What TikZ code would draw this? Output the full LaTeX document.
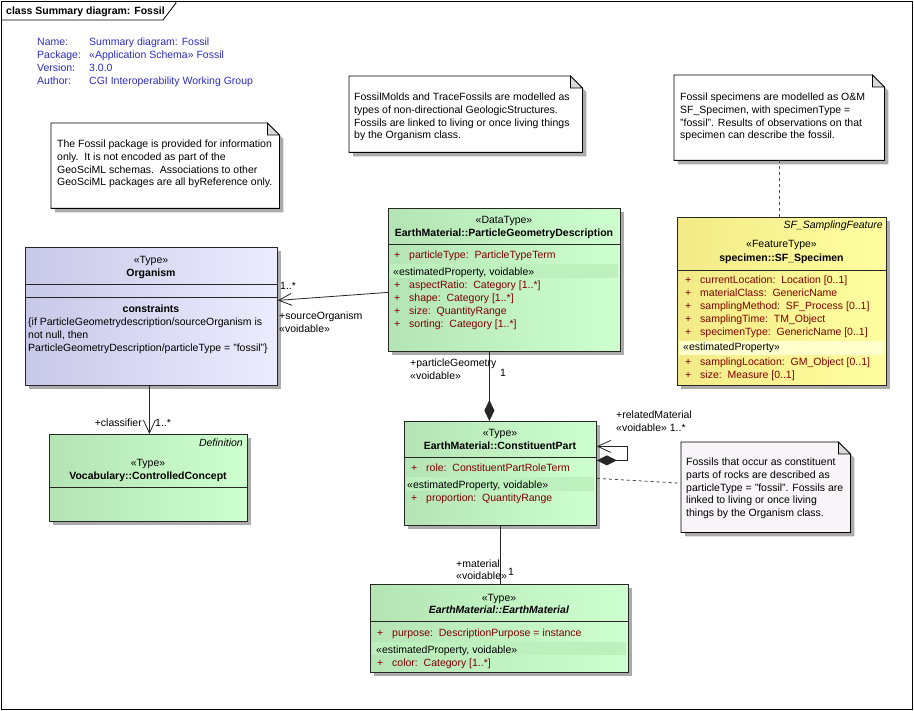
\documentclass[tikz,border=0pt]{standalone}
\usepackage{fontspec}
\setmainfont{Liberation Sans}
\usepackage{tikz}
\usetikzlibrary{positioning}
\usetikzlibrary{arrows.meta}
\usetikzlibrary{shadows}
\usetikzlibrary{backgrounds}

\definecolor{infoblue}{RGB}{45,45,190}
\definecolor{attrred}{RGB}{128,0,0}
\definecolor{greenL}{RGB}{180,228,180}
\definecolor{greenR}{RGB}{206,255,206}
\definecolor{greenband}{RGB}{190,240,190}
\definecolor{lilacL}{RGB}{200,200,232}
\definecolor{lilacR}{RGB}{236,236,255}
\definecolor{yellowL}{RGB}{242,234,135}
\definecolor{yellowR}{RGB}{255,255,160}
\definecolor{yellowband}{RGB}{255,255,205}
\definecolor{notefill}{RGB}{248,244,248}

\begin{document}
\begin{tikzpicture}[x=1pt,y=-1pt,
        every node/.style={inner sep=0pt, font=\fontsize{10.5}{12.6}\selectfont},
        txt/.style={anchor=base west},
        mid/.style={anchor=base},
        info/.style={anchor=base west, text=infoblue},
        attr/.style={anchor=base west, text=attrred},
        notetext/.style={anchor=north west, align=left},
        notebox/.style={anchor=north west},
        clsbox/.style={draw=black!85, line width=0.8pt, anchor=north west,
                drop shadow={shadow xshift=4pt, shadow yshift=-4pt, fill=black!33, opacity=1}},
        greencls/.style={clsbox, left color=greenL, right color=greenR},
        lilaccls/.style={clsbox, left color=lilacL, right color=lilacR},
        yellowcls/.style={clsbox, left color=yellowL, right color=yellowR},
        sep/.style={draw=black!85, line width=0.8pt},
        assoc/.style={draw=black!85, line width=0.8pt, -{Straight Barb[length=13pt,width=12pt]}},
        comp/.style={draw=black!85, line width=0.8pt, -{Diamond[length=21pt,width=10pt]}},
        selfassoc/.style={draw=black!85, line width=0.8pt,
                {Diamond[length=20pt,width=10pt]}-{Straight Barb[length=13pt,width=12pt]}},
        plain/.style={draw=black!85, line width=0.8pt},
        notelink/.style={draw=black!70, line width=0.8pt, dash pattern=on 3pt off 3pt},
    ]
    \useasboundingbox (0,0) rectangle (914,711);

    % frame and title tab
    \draw[line width=0.8pt] (1,1) rectangle (912,709);
    \draw[line width=0.8pt] (1,20) -- (163,20) -- (176,3) -- (176,1);
    \node[txt] (title) at (6,15) {\textbf{class Summary diagram: Fossil}};

    % diagram properties
    \foreach \k/\v [count=\i from 0] in {Name:/Summary diagram: Fossil,
            Package:/«Application Schema» Fossil, Version:/3.0.0,
            Author:/CGI Interoperability Working Group} {
        \node[info] (infok\i) at (37,46+12.7*\i) {\k};
        \node[info] (infov\i) at (89,46+12.7*\i) {\v};
    }

    % notes
    \node[notebox, minimum width=228pt, minimum height=85pt] (pkgnote) at (51,123) {};
    \node[notetext] (pkgtext) at (57,140) {The Fossil package is provided for information\\
        only.\ \ It is not encoded as part of the\\
        GeoSciML schemas.\ \ Associations to other\\
        GeoSciML packages are all byReference only.};
    \node[notebox, minimum width=233pt, minimum height=76pt] (moldnote) at (349,76) {};
    \node[notetext] (moldtext) at (354,93) {FossilMolds and TraceFossils are modelled as\\
        types of non-directional GeologicStructures.\\
        Fossils are linked to living or once living things\\
        by the Organism class.};
    \node[notebox, minimum width=210pt, minimum height=85pt] (specnote) at (674,75) {};
    \node[notetext] (spectext) at (680,93) {Fossil specimens are modelled as O\&M\\
        SF\_Specimen, with specimenType =\\
        "fossil". Results of observations on that\\
        specimen can describe the fossil.};
    \node[notebox, minimum width=169pt, minimum height=90pt] (partnote) at (681,442) {};
    \node[notetext] (parttext) at (686,458) {Fossils that occur as constituent\\
        parts of rocks are described as\\
        particleType = "fossil". Fossils are\\
        linked to living or once living\\
        things by the Organism class.};

    \begin{scope}[on background layer]
        \fill[white] (0,0) rectangle (914,711);
        \foreach \n/\col in {pkgnote/white, moldnote/white, specnote/white, partnote/notefill} {
            \fill[black!33, transform canvas={shift={(4pt,-4pt)}}] (\n.south west) -- (\n.north west)
                -- ([xshift=-12pt]\n.north east) -- ([yshift=-12pt]\n.north east) -- (\n.south east) -- cycle;
            \draw[fill=\col, line width=0.8pt] (\n.south west) -- (\n.north west)
                -- ([xshift=-12pt]\n.north east) -- ([yshift=-12pt]\n.north east) -- (\n.south east) -- cycle;
            \draw[fill=black!15, line width=0.8pt] ([xshift=-12pt]\n.north east)
                -- ([xshift=-12pt,yshift=-12pt]\n.north east) -- ([yshift=-12pt]\n.north east) -- cycle;
        }
    \end{scope}

    % classes
    \node[lilaccls, minimum width=252pt, minimum height=138pt] (org) at (25,247) {};
    \node[greencls, minimum width=232pt, minimum height=143pt] (pgd) at (388,208) {};
    \node[yellowcls, minimum width=209pt, minimum height=168pt] (spec) at (677,217) {};
    \node[greencls, minimum width=198pt, minimum height=87pt] (concept) at (49,434) {};
    \node[greencls, minimum width=192pt, minimum height=104pt] (cpart) at (404,421) {};
    \node[greencls, minimum width=258pt, minimum height=88pt] (emat) at (370,584) {};

    % stereotype bands
    \fill[greenband] (390,264) rectangle (618,278);
    \fill[greenband] (406,477) rectangle (594,491);
    \fill[greenband] (372,642) rectangle (626,655);
    \fill[yellowband] (679,341) rectangle (884,355);

    \foreach \b/\y in {org/284, org/297, pgd/244, spec/270, concept/487, cpart/457, emat/621}
        \draw[sep] (\b.west |- 0,\y) -- (\b.east |- 0,\y);

    % Organism
    \node[mid] (orgst) at (151,264) {«Type»};
    \node[mid] (orgname) at (151,277) {\textbf{Organism}};
    \node[mid] (orgcon) at (151,313) {\textbf{constraints}};
    \node[notetext] (orgrule) at (28,318) {\{if ParticleGeometrydescription/sourceOrganism is\\
        not null, then\\
        ParticleGeometryDescription/particleType = "fossil"\}};

    % ParticleGeometryDescription
    \node[mid] (pgdst) at (504,224) {«DataType»};
    \node[mid] (pgdname) at (504,237) {\textbf{EarthMaterial::ParticleGeometryDescription}};
    \node[attr] (pgdtype) at (394,259) {\makebox[15pt][l]{+}particleType:\ \ ParticleTypeTerm};
    \node[txt] (pgdband) at (393,276) {«estimatedProperty, voidable»};
    \foreach \a [count=\i from 0] in {{aspectRatio:\ \ Category [1..*]}, {shape:\ \ Category [1..*]},
            {size:\ \ QuantityRange}, {sorting:\ \ Category [1..*]}}
        \node[attr] (pgda\i) at (394,289+13*\i) {\makebox[15pt][l]{+}\a};

    % SF_Specimen
    \node[anchor=base east] (specsup) at (883,229) {\itshape SF\_SamplingFeature};
    \node[mid] (specst) at (781.5,248) {«FeatureType»};
    \node[mid] (specname) at (781.5,262) {\textbf{specimen::SF\_Specimen}};
    \foreach \a [count=\i from 0] in {{currentLocation:\ \ Location [0..1]}, {materialClass:\ \ GenericName},
            {samplingMethod:\ \ SF\_Process [0..1]}, {samplingTime:\ \ TM\_Object},
            {specimenType:\ \ GenericName [0..1]}}
        \node[attr] (speca\i) at (685,284+13*\i) {\makebox[15pt][l]{+}\a};
    \node[txt] (specband) at (683,351) {«estimatedProperty»};
    \node[attr] (specloc) at (685,366) {\makebox[15pt][l]{+}samplingLocation:\ \ GM\_Object [0..1]};
    \node[attr] (specsize) at (685,379) {\makebox[15pt][l]{+}size:\ \ Measure [0..1]};

    % ControlledConcept
    \node[anchor=base east] (consup) at (243,447) {\itshape Definition};
    \node[mid] (const) at (148,467) {«Type»};
    \node[mid] (conname) at (148,480) {\textbf{Vocabulary::ControlledConcept}};

    % ConstituentPart
    \node[mid] (cpst) at (500,437) {«Type»};
    \node[mid] (cpname) at (500,450) {\textbf{EarthMaterial::ConstituentPart}};
    \node[attr] (cprole) at (411,472) {\makebox[15pt][l]{+}role:\ \ ConstituentPartRoleTerm};
    \node[txt] (cpband) at (407,489) {«estimatedProperty, voidable»};
    \node[attr] (cpprop) at (411,502) {\makebox[15pt][l]{+}proportion:\ \ QuantityRange};

    % EarthMaterial
    \node[mid] (emst) at (499,601) {«Type»};
    \node[mid] (emname) at (499,613) {\textbf{\itshape EarthMaterial::EarthMaterial}};
    \node[attr] (empurp) at (377,636) {\makebox[15pt][l]{+}purpose:\ \ DescriptionPurpose = instance};
    \node[txt] (emband) at (376,653) {«estimatedProperty, voidable»};
    \node[attr] (emcolor) at (377,666) {\makebox[15pt][l]{+}color:\ \ Category [1..*]};

    % connectors
    \draw[assoc] ([yshift=-12.5pt]pgd.west) -- ([yshift=16pt]org.east);
    \draw[assoc] ([xshift=-2pt]org.south) -- ([xshift=1pt]concept.north);
    \draw[comp] ([xshift=-15pt]pgd.south) -- ([xshift=-11pt]cpart.north);
    \draw[selfassoc] ([yshift=13pt]cpart.east) -- ++(31,0) -- ++(0,-14) -- ([yshift=27pt]cpart.east);
    \draw[plain] (cpart.south) -- (cpart.south |- emat.north);
    \draw[notelink] (specnote.south) -- (specnote.south |- spec.north);
    \draw[notelink] ([yshift=-5pt]cpart.east) -- ([yshift=4pt]partnote.west);

    % role labels
    \node[txt] (srcmult) at (280,290) {1..*};
    \node[txt] (srcrole) at (279,320) {+sourceOrganism};
    \node[txt] (srcvoid) at (279,333) {«voidable»};
    \node[anchor=base east] (clsrole) at (142,427) {+classifier};
    \node[txt] (clsmult) at (155,427) {1..*};
    \node[txt] (pgrole) at (410,367) {+particleGeometry};
    \node[txt] (pgvoid) at (410,380) {«voidable»};
    \node[txt] (pgmult) at (500,377) {1};
    \node[txt] (relrole) at (616,419) {+relatedMaterial};
    \node[txt] (relvoid) at (616,432) {«voidable» 1..*};
    \node[txt] (matrole) at (456,567) {+material};
    \node[txt] (matvoid) at (456,579) {«voidable»};
    \node[txt] (matmult) at (508,576) {1};
\end{tikzpicture}
\end{document}
